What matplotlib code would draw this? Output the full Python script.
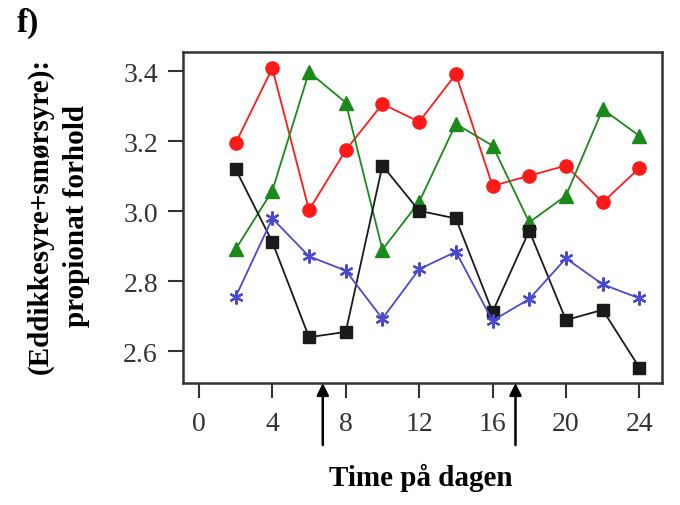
import matplotlib.pyplot as plt

plt.rcParams['font.family'] = ['Liberation Serif', 'DejaVu Serif']

hours = [2, 4, 6, 8, 10, 12, 14, 16, 18, 20, 22, 24]
red = [3.194, 3.408, 3.003, 3.174, 3.306, 3.255, 3.391, 3.072, 3.101, 3.130, 3.025, 3.123]
green = [2.891, 3.058, 3.397, 3.310, 2.890, 3.026, 3.249, 3.187, 2.968, 3.044, 3.291, 3.215]
black = [3.120, 2.912, 2.640, 2.655, 3.130, 3.001, 2.979, 2.712, 2.944, 2.689, 2.718, 2.553]
blue = [2.755, 2.979, 2.871, 2.830, 2.693, 2.834, 2.884, 2.687, 2.749, 2.865, 2.791, 2.751]
arrow_hours = [6.75, 17.25]
xticks = [0, 4, 8, 12, 16, 20, 24]
yticks = [2.6, 2.8, 3.0, 3.2, 3.4]

fig = plt.figure(figsize=(6.8, 5.06), dpi=100)
ax = fig.add_axes([0.269, 0.241, 0.705, 0.654])

ax.plot(hours, red, color='#ff1a1a', marker='o', markersize=9.5, lw=1.3)
ax.plot(hours, green, color='#1a8a1a', marker='^', markersize=10.5, lw=1.3)
ax.plot(hours, black, color='#1a1a1a', marker='s', markersize=9, lw=1.3)
ax.plot(hours, blue, color='#4a4ad0', marker=(6, 2, 0), markersize=10, lw=1.3,
        markeredgewidth=1.6)

ax.set_xlim(-0.87, 25.25)
ax.set_ylim(2.509, 3.454)
ax.set_xticks(xticks)
ax.set_xticklabels([str(t) for t in xticks])
ax.set_yticks(yticks)
ax.set_yticklabels([f'{t:.1f}' for t in yticks])
ax.tick_params(length=11, width=1.5, color='#333333', labelsize=20,
               labelcolor='#333333')
ax.tick_params(axis='y', pad=7)
ax.tick_params(axis='x', pad=9)
for s in ax.spines.values():
    s.set_linewidth(1.8)
    s.set_color('#333333')

# arrows under the x axis
for h in arrow_hours:
    ax.annotate('', xy=(h, 2.509), xytext=(h, 2.509 - 62 / 350),
                xycoords='data', textcoords='data',
                arrowprops=dict(arrowstyle='-|>', color='black', lw=1.8,
                                mutation_scale=18, shrinkA=0, shrinkB=0),
                annotation_clip=False)

fig.text(0.619, 0.055, 'Time på dagen', fontsize=21, fontweight='bold',
         ha='center', va='center')
fig.text(0.086, 0.573, '(Eddikkesyre+smørsyre):\npropionat forhold',
         rotation=90, ha='center', va='center', fontsize=21,
         fontweight='bold', multialignment='center', linespacing=1.45)
fig.text(0.025, 0.953, 'f)', fontsize=24, fontweight='bold', va='center')

fig.savefig('out.png', dpi=100)
